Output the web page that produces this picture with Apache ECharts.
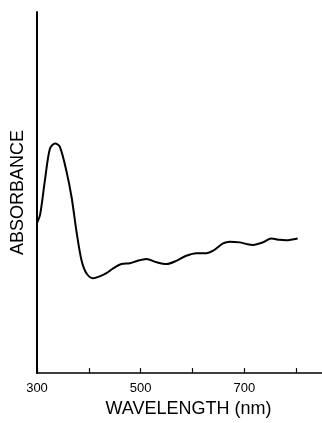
<!DOCTYPE html>
<html>
<head>
<meta charset="utf-8">
<script src="https://cdn.jsdelivr.net/npm/echarts@6/dist/echarts.min.js"></script>
<style>
  html, body { margin: 0; padding: 0; background: #fff; }
  #main { width: 322px; height: 423px; }
</style>
</head>
<body>
<div id="main"></div>
<script>
// wavelength (nm) and absorbance (arbitrary units)
var wavelength = [300, 306, 315, 325, 335, 344, 357, 367, 376, 386, 396, 408, 421, 434, 447, 463, 479, 492, 511, 531, 550, 569, 588, 608, 627, 640, 659, 672, 691, 706, 717, 736, 752, 768, 781, 803];
var absorbance = [0.416, 0.439, 0.531, 0.622, 0.636, 0.627, 0.558, 0.485, 0.394, 0.312, 0.275, 0.263, 0.268, 0.277, 0.290, 0.302, 0.304, 0.310, 0.316, 0.307, 0.302, 0.311, 0.325, 0.332, 0.332, 0.339, 0.359, 0.364, 0.362, 0.357, 0.355, 0.362, 0.373, 0.369, 0.368, 0.373];
var tickValues = [300, 400, 500, 600, 700, 800];
var labelValues = [300, 500, 700];

var points = [];
for (var i = 0; i < wavelength.length; i++) {
    points.push([wavelength[i], absorbance[i]]);
}

var myChart = echarts.init(document.getElementById('main'));
var option = {
    animation: false,
    grid: { left: 37, top: 12, right: 0, bottom: 46 },
    xAxis: {
        type: 'value',
        min: 300,
        max: 850,
        name: 'WAVELENGTH (nm)',
        nameLocation: 'middle',
        nameGap: 23,
        nameTextStyle: {
            fontFamily: 'Liberation Sans, Arial, sans-serif',
            fontSize: 18,
            color: '#000',
            padding: [0, 0, 0, 18]
        },
        axisLine: { lineStyle: { color: '#000', width: 1.5 } },
        axisTick: {
            customValues: tickValues,
            inside: true,
            length: 5,
            lineStyle: { color: '#000', width: 1.2 }
        },
        axisLabel: {
            customValues: labelValues,
            margin: 9,
            fontFamily: 'Liberation Sans, Arial, sans-serif',
            fontSize: 13,
            color: '#000'
        },
        splitLine: { show: false }
    },
    yAxis: {
        type: 'value',
        min: 0,
        max: 1,
        name: 'ABSORBANCE',
        nameLocation: 'middle',
        nameGap: 10,
        nameTextStyle: {
            fontFamily: 'Liberation Sans, Arial, sans-serif',
            fontSize: 18,
            color: '#000'
        },
        axisLine: { show: true, lineStyle: { color: '#000', width: 2 } },
        axisTick: { show: false },
        axisLabel: { show: false },
        splitLine: { show: false }
    },
    series: [{
        type: 'line',
        data: points,
        smooth: 0.3,
        showSymbol: false,
        lineStyle: { color: '#000', width: 2 }
    }]
};
myChart.setOption(option);
</script>
</body>
</html>
